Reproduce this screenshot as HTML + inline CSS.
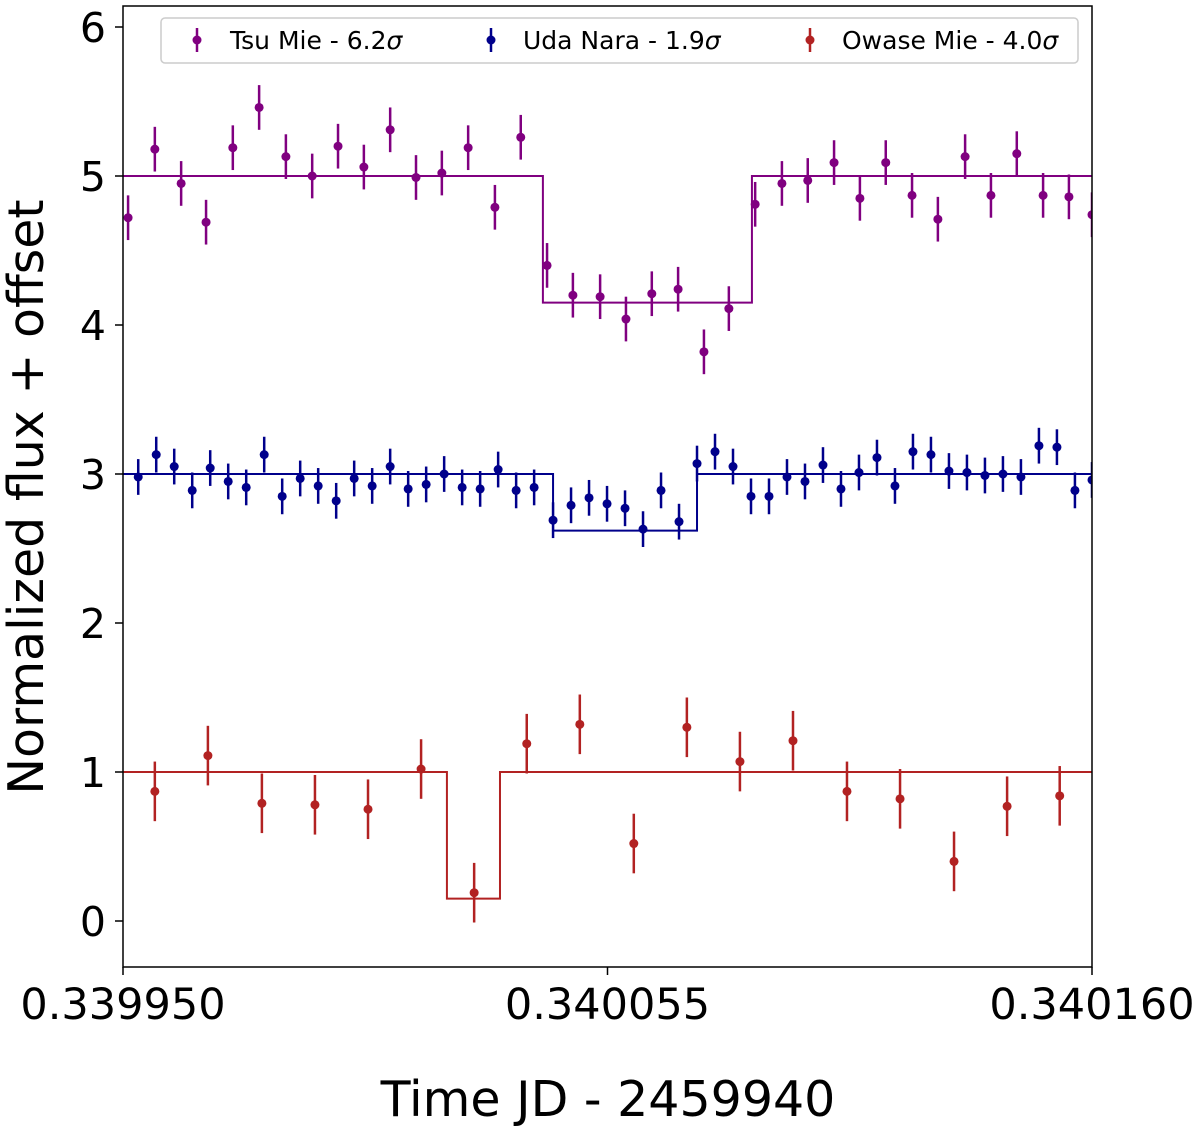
<!DOCTYPE html>
<html><head><meta charset="utf-8"><style>
body{margin:0;background:#fff;}
svg text{font-family:"DejaVu Sans","Liberation Sans",sans-serif;}
</style></head><body>
<svg id="chart" width="1200" height="1131" xmlns="http://www.w3.org/2000/svg">
<defs><clipPath id="clip"><rect x="123" y="6" width="969" height="961"/></clipPath></defs>
<g id="plot" clip-path="url(#clip)"></g>
<rect x="123" y="6" width="969" height="961" fill="none" stroke="#000" stroke-width="1.5"/>
<g id="axes"></g>
<text x="608" y="1116" font-size="49" text-anchor="middle">Time JD - 2459940</text>
<text transform="translate(43,497) rotate(-90)" font-size="49" text-anchor="middle">Normalized flux + offset</text>
<g>
<rect x="161" y="18" width="917" height="45" rx="4" fill="#fff" stroke="#ccc" stroke-width="1.5"/>
<g><line x1="197" y1="28" x2="197" y2="52" stroke="#800080" stroke-width="2.5"/><circle cx="197" cy="40" r="4.5" fill="#800080"/><text x="230" y="49" font-size="25">Tsu Mie - 6.2<tspan font-style="italic">σ</tspan></text></g>
<g><line x1="491" y1="28" x2="491" y2="52" stroke="#00008b" stroke-width="2.5"/><circle cx="491" cy="40" r="4.5" fill="#00008b"/><text x="523" y="49" font-size="25">Uda Nara - 1.9<tspan font-style="italic">σ</tspan></text></g>
<g><line x1="810" y1="28" x2="810" y2="52" stroke="#b22222" stroke-width="2.5"/><circle cx="810" cy="40" r="4.5" fill="#b22222"/><text x="842" y="49" font-size="25">Owase Mie - 4.0<tspan font-style="italic">σ</tspan></text></g>
</g>
</svg>
<script>
// time offsets in micro-days from 0.339950
const tsuT=[1.1,6.9,12.6,18.0,23.8,29.5,35.3,41.0,46.6,52.2,57.9,63.5,69.1,74.8,80.6,86.2,91.9,97.5,103.4,109.0,114.6,120.3,125.9,131.3,137.0,142.8,148.4,154.1,159.7,165.3,171.0,176.6,182.5,188.1,193.7,199.4,205.0,210.0];
const tsuF=[4.72,5.18,4.95,4.69,5.19,5.46,5.13,5.00,5.20,5.06,5.31,4.99,5.02,5.19,4.79,5.26,4.40,4.20,4.19,4.04,4.21,4.24,3.82,4.11,4.81,4.95,4.97,5.09,4.85,5.09,4.87,4.71,5.13,4.87,5.15,4.87,4.86,4.74];
const udaT=[3.3,7.2,11.1,15.0,18.9,22.8,26.7,30.6,34.5,38.4,42.3,46.2,50.1,54.0,57.9,61.8,65.7,69.6,73.5,77.4,81.3,85.2,89.1,93.2,97.1,101.0,104.9,108.8,112.7,116.6,120.5,124.4,128.3,132.2,136.1,140.0,143.9,147.8,151.7,155.6,159.5,163.4,167.3,171.2,175.1,179.0,182.9,186.8,190.7,194.6,198.5,202.4,206.3,210.0];
const udaF=[2.98,3.13,3.05,2.89,3.04,2.95,2.91,3.13,2.85,2.97,2.92,2.82,2.97,2.92,3.05,2.90,2.93,3.00,2.91,2.90,3.03,2.89,2.91,2.69,2.79,2.84,2.80,2.77,2.63,2.89,2.68,3.07,3.15,3.05,2.85,2.85,2.98,2.95,3.06,2.90,3.01,3.11,2.92,3.15,3.13,3.02,3.01,2.99,3.00,2.98,3.19,3.18,2.89,2.96];
const owaT=[6.9,18.4,30.1,41.6,53.1,64.6,76.1,87.5,99.0,110.7,122.2,133.7,145.2,156.9,168.4,180.1,191.6,203.0];
const owaF=[0.87,1.11,0.79,0.78,0.75,1.02,0.19,1.19,1.32,0.52,1.30,1.07,1.21,0.87,0.82,0.40,0.77,0.84];
const tsuErr=0.15, udaErr=0.12, owaErr=0.2;
// step models: [start,end,level]
const tsuModel=[[0,91.0,5.0],[91.0,136.3,4.15],[136.3,210,5.0]];
const udaModel=[[0,93.2,3.0],[93.2,124.4,2.62],[124.4,210,3.0]];
const owaModel=[[0,70.2,1.0],[70.2,81.7,0.15],[81.7,210,1.0]];
const yTicks=[0,1,2,3,4,5,6];
const xTicks=[0,105,210];
const xTickLabels=["0.339950","0.340055","0.340160"];

const NS="http://www.w3.org/2000/svg";
const X=t=>123+t*969/210;
const Y=v=>921-v*149;
const plot=document.getElementById('plot'), axes=document.getElementById('axes');
function mk(tag,attrs,parent){const e=document.createElementNS(NS,tag);for(const k in attrs)e.setAttribute(k,attrs[k]);parent.appendChild(e);return e;}
function series(T,F,err,model,color,name){
  const g=mk('g',{},plot);
  
  
  let d='M'+X(model[0][0])+','+Y(model[0][2]);
  model.forEach((s,i)=>{ if(i>0) d+=' L'+X(s[0])+','+Y(s[2]); d+=' L'+X(s[1])+','+Y(s[2]); });
  const p=mk('path',{d:d,fill:'none',stroke:color,'stroke-width':2},g);
  
  
  T.forEach((t,i)=>{
    const l=mk('line',{x1:X(t),x2:X(t),y1:Y(F[i]+err),y2:Y(F[i]-err),stroke:color,'stroke-width':2.5},g);
    
    
    const c=mk('circle',{cx:X(t),cy:Y(F[i]),r:4.5,fill:color},g);
    
    
  });
}
series(tsuT,tsuF,tsuErr,tsuModel,'#800080','tsu-mie');
series(udaT,udaF,udaErr,udaModel,'#00008b','uda-nara');
series(owaT,owaF,owaErr,owaModel,'#b22222','owase-mie');
yTicks.forEach(v=>{
  const l=mk('line',{x1:115,x2:123,y1:Y(v),y2:Y(v),stroke:'#000','stroke-width':1.5},axes);
  
  
  const t=mk('text',{x:106,y:Y(v)+15,'font-size':41,'text-anchor':'end'},axes);
  t.textContent=v;
  
  
});
xTicks.forEach((v,i)=>{
  const l=mk('line',{x1:X(v),x2:X(v),y1:967,y2:975,stroke:'#000','stroke-width':1.5},axes);
  
  
  const t=mk('text',{x:X(v),y:1019,'font-size':43,'text-anchor':'middle'},axes);
  t.textContent=xTickLabels[i];
  
  
});
</script>
</body></html>
